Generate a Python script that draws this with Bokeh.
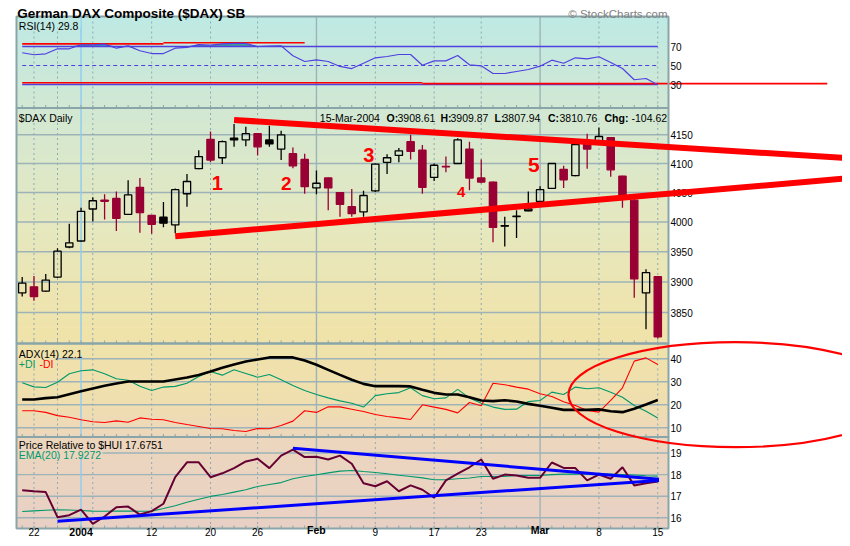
import numpy as np
import pandas as pd
from bokeh.plotting import figure
from bokeh.models import Range1d, LogScale, ColumnDataSource
from bokeh.core.properties import value
from bokeh.embed import file_html
from bokeh.resources import INLINE

# ---------------- data ----------------
dates = ["2003-12-19", "2003-12-22", "2003-12-23", "2003-12-29", "2003-12-30",
         "2004-01-02", "2004-01-05", "2004-01-06", "2004-01-07", "2004-01-08", "2004-01-09",
         "2004-01-12", "2004-01-13", "2004-01-14", "2004-01-15", "2004-01-16",
         "2004-01-20", "2004-01-21", "2004-01-22", "2004-01-23",
         "2004-01-26", "2004-01-27", "2004-01-28", "2004-01-29", "2004-01-30",
         "2004-02-02", "2004-02-03", "2004-02-04", "2004-02-05", "2004-02-06",
         "2004-02-09", "2004-02-10", "2004-02-11", "2004-02-12", "2004-02-13",
         "2004-02-17", "2004-02-18", "2004-02-19", "2004-02-20",
         "2004-02-23", "2004-02-24", "2004-02-25", "2004-02-26", "2004-02-27",
         "2004-03-01", "2004-03-02", "2004-03-03", "2004-03-04", "2004-03-05",
         "2004-03-08", "2004-03-09", "2004-03-10", "2004-03-11", "2004-03-12",
         "2004-03-15"]

open_ = [3882, 3892, 3885, 3908, 3958, 3968, 4022, 4037, 4040, 4013, 4059,
         4011, 4008, 3995, 4048, 4091, 4142, 4110, 4144, 4141,
         4152, 4141, 4125, 4117, 4107, 4058, 4075, 4050, 4026, 4017,
         4053, 4102, 4114, 4138, 4123, 4076, 4095, 4100, 4125,
         4075, 4068, 3994, 4009, 4019, 4035, 4057, 4090, 4079, 4133,
         4137, 4145, 4078, 4037, 3882, 3908.61]
high = [3908, 3910, 3913, 3956, 3997, 4024, 4042, 4047, 4052, 4071, 4075,
        4011, 4034, 4057, 4082, 4123, 4156, 4140, 4169, 4164,
        4153, 4166, 4157, 4128, 4117, 4088, 4076, 4051, 4056, 4053,
        4100, 4116, 4127, 4150, 4132, 4100, 4112, 4144, 4138,
        4107, 4069, 4009, 4020, 4052, 4061, 4101, 4096, 4134, 4152,
        4163, 4146, 4079, 4046, 3921, 3909.87]
low = [3876, 3869, 3884, 3907, 3956, 3967, 4001, 4004, 3985, 4012, 3982,
       3980, 3991, 3981, 4026, 4090, 4102, 4099, 4129, 4130,
       4114, 4129, 4106, 4092, 4048, 4047, 4020, 4009, 4009, 4009,
       4051, 4082, 4102, 4107, 4048, 4070, 4085, 4099, 4054,
       4066, 3966, 3959, 3973, 4018, 4034, 4056, 4058, 4078, 4091,
       4137, 4077, 4024, 3874, 3823, 3807.94]
close = [3898, 3876, 3903, 3951, 3965, 4018, 4036, 4035, 4006, 4046, 4016,
         3996, 3998, 4055, 4069, 4112, 4106, 4138, 4141, 4152,
         4129, 4134, 4150, 4096, 4060, 4066, 4058, 4030, 4014, 4045,
         4099, 4110, 4122, 4121, 4059, 4097, 4094, 4141, 4075,
         4068, 3991, 3993, 4010, 4022, 4055, 4100, 4072, 4133, 4125,
         4147, 4089, 4046, 3905, 3915.38, 3810.76]

rsi = [63.4, 61.3, 62.3, 67.6, 67.6, 71.8, 71.8, 72.5, 68.2, 70.7,
       65.5, 62.6, 62.6, 68.2, 69.0, 72.0, 71.4, 72.8, 73.2, 73.2,
       70.0, 70.4, 70.7, 60.2, 54.2, 56.0, 54.2, 49.0, 46.8, 52.4,
       58.1, 59.5, 61.6, 61.6, 50.3, 54.9, 54.9, 60.5, 50.7, 49.7,
       41.6, 41.6, 43.7, 45.8, 49.3, 55.6, 52.4, 58.1, 57.0, 59.2,
       53.2, 46.8, 35.0, 36.3, 29.8]
adx = [22.3, 22.3, 22.9, 23.3, 24.6, 25.9, 27.1, 28.3, 29.3, 30.1,
       30.1, 30.1, 30.1, 31.0, 31.9, 33.0, 34.5, 36.1, 37.5, 38.8,
       39.7, 40.6, 40.6, 40.6, 39.3, 37.4, 35.2, 33.0, 30.9, 29.1,
       28.1, 28.1, 28.1, 28.0, 26.5, 25.2, 24.5, 24.5, 23.3, 21.9,
       21.6, 22.0, 21.4, 20.4, 19.6, 18.7, 17.8, 17.8, 17.8, 18.0,
       17.2, 16.8, 18.3, 20.1, 22.1]
plus_di = [29.6, 27.8, 27.5, 29.8, 33.5, 34.8, 35.2, 33.5, 31.3, 30.7,
           28.1, 26.2, 27.7, 28.0, 29.4, 32.3, 34.5, 32.9, 35.2, 33.6,
           32.0, 33.2, 30.9, 28.4, 26.2, 24.5, 23.0, 21.7, 20.7, 19.0,
           24.0, 24.8, 25.3, 27.4, 24.0, 22.6, 23.0, 26.7, 23.0, 20.7,
           19.0, 18.0, 18.1, 21.4, 21.9, 25.5, 24.5, 27.7, 27.0, 27.4,
           25.5, 23.3, 19.7, 17.2, 14.3]
minus_di = [17.4, 17.4, 16.7, 15.3, 14.6, 13.5, 12.6, 12.3, 13.0, 12.4,
            14.3, 13.7, 13.5, 12.3, 11.4, 10.6, 9.7, 9.6, 8.8, 8.4,
            9.7, 9.6, 11.0, 12.9, 17.4, 16.7, 19.1, 19.1, 18.1, 17.1,
            15.8, 14.9, 14.3, 13.6, 20.0, 19.0, 18.0, 16.5, 21.0, 19.6,
            29.4, 28.7, 27.7, 26.8, 24.8, 23.6, 21.3, 19.7, 17.5, 16.8,
            21.9, 27.4, 39.0, 40.4, 37.5]
price_rel = [17.28, 17.23, 17.19, 16.03, 16.12, 16.38, 15.72, 16.06, 16.49, 16.52,
             16.15, 16.31, 16.65, 17.88, 18.57, 18.57, 17.88, 18.06, 18.30, 18.61,
             18.73, 18.30, 18.88, 19.16, 18.81, 18.83, 18.70, 18.88, 18.50, 17.60,
             17.46, 17.69, 17.23, 17.50, 17.30, 16.93, 17.73, 18.04, 18.34, 18.70,
             17.81, 18.00, 17.96, 17.85, 17.85, 18.56, 18.31, 18.30, 17.73, 18.00,
             17.81, 18.34, 17.50, 17.60, 17.6751]
ema20 = [16.29, 16.32, 16.35, 16.37, 16.36, 16.34, 16.31, 16.30, 16.31, 16.31,
         16.30, 16.31, 16.43, 16.56, 16.72, 16.86, 16.99, 17.08, 17.19, 17.30,
         17.45, 17.54, 17.63, 17.81, 17.91, 17.99, 18.08, 18.16, 18.19, 18.14,
         18.10, 18.04, 17.97, 17.91, 17.85, 17.76, 17.76, 17.81, 17.84, 17.91,
         17.91, 17.92, 17.96, 17.96, 17.96, 18.00, 18.02, 18.02, 18.04, 18.03,
         18.02, 18.00, 17.98, 17.95, 17.9272]

date_tick_idx = [1, 5, 11, 16, 20, 25, 30, 35, 39, 44, 49, 54]
date_tick_labels = ["22", "2004", "12", "20", "26", "Feb", "9", "17", "23", "Mar", "8", "15"]
bold_tick_labels = ["2004", "Feb", "Mar"]
price_ticks = [3850, 3900, 3950, 4000, 4050, 4100, 4150]
rsi_ticks = [30, 50, 70]
adx_ticks = [10, 20, 30, 40]
pr_ticks = [16, 17, 18, 19]

# hand-drawn annotations (in data units)
price_trend_x0 = [18.0, 13.0]
price_trend_y0 = [4176, 3976]
price_trend_x1 = [70.4, 70.4]
price_trend_y1 = [4109, 4075]
pr_trend_x0 = [3.0, 23.0]
pr_trend_y0 = [15.84, 19.22]
pr_trend_x1 = [54.1, 54.1]
pr_trend_y1 = [17.73, 17.79]
rsi_mark_x0 = [0, 12, 0, 34]
rsi_mark_x1 = [12, 24, 34, 68.4]
rsi_mark_y = [72.8, 73.9, 31.8, 30.9]
wave_labels = ["1", "2", "3", "4", "5"]
wave_x = [16.57, 22.43, 29.45, 37.3, 43.47]
wave_y = [4066, 4066, 4114, 4051, 4098]
ellipse_x, ellipse_y = 60.6, 24.4

# ---------------- layout ----------------
W, H = 842, 538
OFF = 0            # picture origin == figure origin
DX = 11.77         # px per trading day
X0 = 21.7 - OFF    # px of first bar

def px(r):
    return r - OFF

FONT = value("Liberation Sans")
RED_C = "#990033"
GRID = "#9db3b8"
DASH = "#8fa9b0"
BORDER = "#8aa5a9"
YEARC = "#8ecbf2"
BLUE_RSI = "#5040e0"
GREEN = "#00996b"
MAROON = "#660033"

def band(v_a, ry_a, v_b, ry_b, log=False):
    fa, fb = (np.log(v_a), np.log(v_b)) if log else (v_a, v_b)
    ya, yb = px(ry_a), px(ry_b)
    k = (fb - fa) / (yb - ya)
    top = fa + k * (0 - ya)
    bot = fa + k * (H - ya)
    if log:
        top, bot = np.exp(top), np.exp(bot)
    return Range1d(start=float(bot), end=float(top))

p = figure(width=W, height=H, output_backend="svg", toolbar_location=None,
           x_range=Range1d(-X0 / DX, (W - X0) / DX), y_range=Range1d(H, 0),
           x_axis_location=None, y_axis_location=None, min_border=0)
p.grid.visible = False
p.outline_line_color = None
p.background_fill_color = "white"
p.border_fill_color = "white"
p.extra_x_ranges = {"px": Range1d(0, W)}
p.extra_y_ranges = {
    "rsi": band(70, 46, 30, 84),
    "price": band(4150, 134.3, 3850, 312, log=True),
    "adx": band(40, 358.3, 10, 427.3),
    "pr": band(19, 452.5, 16, 517.3),
}
p.extra_y_scales = {"price": LogScale()}

n = len(dates)
idx = np.arange(n)
d = pd.to_datetime(dates)
week = d.isocalendar().week.values
year_start = [i for i in range(1, n) if d[i].year != d[i - 1].year]
month_start = [i for i in range(1, n) if d[i].month != d[i - 1].month and i not in year_start]
week_start = [i for i in range(1, n) if week[i] != week[i - 1] and i not in year_start + month_start]

# panel geometry (reference px)
L_, R_ = 16, 668
panels = [(16, 107.5), (107.5, 343), (343, 436.5), (436.5, 528)]

# gradient background
grad_y = [16, 110, 220, 330, 400, 440, 528]
grad_rgb = [(190, 233, 228), (210, 232, 211), (229, 232, 192), (240, 227, 170),
            (240, 223, 174), (236, 214, 190), (232, 208, 196)]

def grad_hex(ry):
    rgb = [int(round(np.interp(ry, grad_y, [c[k] for c in grad_rgb]))) for k in range(3)]
    return "#%02x%02x%02x" % tuple(rgb)

strips = np.arange(16, 528, 2.0)
p.quad(left=px(L_), right=px(R_), top=px(strips), bottom=px(strips) + 2.6,
       fill_color=[grad_hex(y + 1) for y in strips], line_color=None, x_range_name="px")

# horizontal grid lines
for ticks, rname in [(price_ticks, "price"), (adx_ticks, "adx"), (pr_ticks, "pr")]:
    p.segment(x0=px(L_), x1=px(R_), y0=ticks, y1=ticks, line_color=GRID, line_width=1.4,
              x_range_name="px", y_range_name=rname)

# vertical grid lines
for pt, pb in panels:
    p.segment(x0=week_start, x1=week_start, y0=px(pt), y1=px(pb), line_color=DASH,
              line_width=1, line_dash="2 3")
    p.segment(x0=month_start, x1=month_start, y0=px(pt), y1=px(pb), line_color=GRID, line_width=1.4)
    p.segment(x0=year_start, x1=year_start, y0=px(pt), y1=px(pb), line_color=YEARC, line_width=1.4)
    # day ticks on panel bottoms
    p.segment(x0=idx, x1=idx, y0=px(pb) - 3, y1=px(pb), line_color=BORDER, line_width=1)

# legend backgrounds
for (x0r, y0r, x1r, y1r) in [(17, 17, 80, 27), (17, 109, 73, 119), (317, 109, 667, 119),
                             (17, 344, 85, 355), (17, 355, 55, 366),
                             (17, 437.5, 168, 446.5), (17, 446.5, 102, 456)]:
    p.quad(left=px(x0r), right=px(x1r), top=px(y0r), bottom=px(y1r),
           fill_color=grad_hex((y0r + y1r) / 2), line_color=None, x_range_name="px")

# RSI panel
rsi_a = np.array(rsi)
p.varea(x=idx, y1=np.full(n, 70.0), y2=np.maximum(rsi_a, 70), fill_color="#3d9e9e",
        y_range_name="rsi")
p.segment(x0=[0, 0], x1=[n - 1, n - 1], y0=[70, 30], y1=[70, 30], line_color=BLUE_RSI,
          line_width=1.3, y_range_name="rsi")
p.segment(x0=[0], x1=[n - 1], y0=[50], y1=[50], line_color=BLUE_RSI, line_width=1.2,
          line_dash="4 3", y_range_name="rsi")
p.segment(x0=rsi_mark_x0, x1=rsi_mark_x1, y0=rsi_mark_y, y1=rsi_mark_y, line_color="red",
          line_width=1.6, y_range_name="rsi")
p.line(idx, rsi, line_color=BLUE_RSI, line_width=1.2, y_range_name="rsi")

# Candles
o, h, l, c = map(np.array, (open_, high, low, close))
prev_c = np.concatenate([[c[0] - 1], c[:-1]])
col = np.where(c >= prev_c, "black", RED_C)
hollow = c >= o
src = ColumnDataSource(dict(x=idx, hi=h, lo=l, top=np.maximum(o, c), bot=np.minimum(o, c),
                            color=col, fa=np.where(hollow, 0.0, 1.0)))
p.segment(x0="x", x1="x", y0="hi", y1="top", line_color="color", line_width=1.3,
          source=src, y_range_name="price")
p.segment(x0="x", x1="x", y0="bot", y1="lo", line_color="color", line_width=1.3,
          source=src, y_range_name="price")
p.vbar(x="x", width=0.62, top="top", bottom="bot", fill_color="color", fill_alpha="fa",
       line_color="color", line_width=1.3, source=src, y_range_name="price")

# ADX panel
p.line(idx, plus_di, line_color=GREEN, line_width=1.1, y_range_name="adx")
p.line(idx, minus_di, line_color="red", line_width=1.1, y_range_name="adx")
p.line(idx, adx, line_color="black", line_width=2.6, y_range_name="adx")

# Price relative panel
p.line(idx, ema20, line_color=GREEN, line_width=1.1, y_range_name="pr")
p.line(idx, price_rel, line_color=MAROON, line_width=2, y_range_name="pr")
p.segment(x0=pr_trend_x0, x1=pr_trend_x1, y0=pr_trend_y0, y1=pr_trend_y1,
          line_color="#0000ff", line_width=3, y_range_name="pr")

# panel borders
p.quad(left=px(L_), right=px(R_), top=[px(a) for a, b in panels], bottom=[px(b) for a, b in panels],
       fill_alpha=0, line_color=BORDER, line_width=2, x_range_name="px")

# right axis labels
for ticks, rname in [(rsi_ticks, "rsi"), (price_ticks, "price"), (adx_ticks, "adx"), (pr_ticks, "pr")]:
    p.text(x=[px(670)] * len(ticks), y=ticks, text=[str(t) for t in ticks],
           text_font=FONT, text_font_size="10px", text_color="black",
           text_align="left", text_baseline="middle", x_range_name="px", y_range_name=rname)

# hand-drawn red annotations
p.segment(x0=price_trend_x0, x1=price_trend_x1, y0=price_trend_y0, y1=price_trend_y1,
          line_color="#ff0000", line_width=6, y_range_name="price")
wave_sizes = ["20px", "19px", "20px", "15px", "21px"]
for lab, wx, wy, sz in zip(wave_labels, wave_x, wave_y, wave_sizes):
    p.text(x=[wx], y=[wy], text=[lab], text_font=FONT, text_font_size=sz,
           text_font_style="bold", text_color="#ff0000", text_align="center",
           text_baseline="middle", y_range_name="price")
p.ellipse(x=[ellipse_x], y=[ellipse_y], width=[334], height=[105], width_units="screen",
          height_units="screen", fill_alpha=0, line_color="#ff0000", line_width=2.2,
          y_range_name="adx")

# texts
def put(x, y, s, size="10.5px", color="black", bold=False, align="left"):
    p.text(x=[px(x)], y=[px(y)], text=[s], text_font=FONT, text_font_size=size,
           text_color=color, text_font_style="bold" if bold else "normal",
           text_align=align, text_baseline="alphabetic", x_range_name="px")

put(667, 13.5, "\u00a9 StockCharts.com", size="11.5px", color="#7f7f7f", align="right")
put(18.3, 25.5, "RSI(14)  %.1f" % rsi[-1])
put(18.3, 117.3, "$DAX Daily")
chg = close[-1] - close[-2]
header = [("15-Mar-2004", 319.3, False), ("O:", 386, True), ("%.2f" % open_[-1], 397, False),
          ("H:", 440, True), ("%.2f" % high[-1], 450, False),
          ("L:", 494, True), ("%.2f" % low[-1], 502, False),
          ("C:", 547.5, True), ("%.2f" % close[-1], 559, False),
          ("Chg:", 604, True), ("%.2f" % chg, 631, False)]
for s, hx, b in header:
    put(hx, 117.3, s, size="10.5px", bold=b)
put(18.3, 353.3, "ADX(14)  %.1f" % adx[-1])
put(18.3, 363.3, "+DI", color=GREEN)
put(39, 363.3, "-DI", color="red")
put(18.3, 444.6, "Price Relative to $HUI  %.4f" % price_rel[-1])
put(18.3, 454.6, "EMA(20) %.4f" % ema20[-1], color=GREEN)

# date labels under the chart (kept clear of the bottom edge)
norm_i = [i for i, s in zip(date_tick_idx, date_tick_labels) if s not in bold_tick_labels]
norm_s = [s for s in date_tick_labels if s not in bold_tick_labels]
bold_i = [i for i, s in zip(date_tick_idx, date_tick_labels) if s in bold_tick_labels]
bold_s = [s for s in date_tick_labels if s in bold_tick_labels]
p.text(x=norm_i, y=[px(535.6)] * len(norm_i), text=norm_s, text_font=FONT, text_font_size="10px",
       text_color="black", text_align="center", text_baseline="bottom")
p.text(x=bold_i, y=[px(535.6)] * len(bold_i), text=bold_s, text_font=FONT, text_font_size="10.5px",
       text_font_style="bold", text_color="black", text_align="center", text_baseline="bottom")

# chart title
put(16.7, 13.4, "German DAX Composite ($DAX) SB", size="13.5px", bold=True)

open("out.html", "w").write(file_html(p, INLINE, title="German DAX Composite"))
